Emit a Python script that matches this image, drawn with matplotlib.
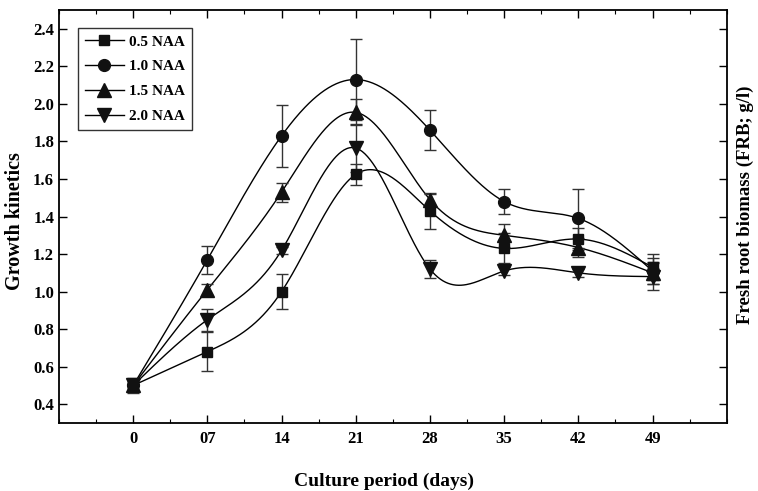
import numpy as np
import matplotlib
matplotlib.use("Agg")
import matplotlib.pyplot as plt
from matplotlib.ticker import MultipleLocator, FixedLocator, FormatStrFormatter

plt.rcParams['font.family'] = ['Liberation Serif', 'DejaVu Serif']
plt.rcParams['font.weight'] = 'bold'

days = [0, 7, 14, 21, 28, 35, 42, 49]
tick_labels = ["0", "07", "14", "21", "28", "35", "42", "49"]

series_names = ["0.5 NAA", "1.0 NAA", "1.5 NAA", "2.0 NAA"]
naa_05 = [0.50, 0.68, 1.00, 1.625, 1.43, 1.23, 1.28, 1.13]
naa_10 = [0.50, 1.17, 1.83, 2.13, 1.86, 1.48, 1.39, 1.11]
naa_15 = [0.50, 1.01, 1.53, 1.955, 1.49, 1.30, 1.235, 1.10]
naa_20 = [0.50, 0.85, 1.22, 1.765, 1.12, 1.11, 1.10, 1.08]

err_05 = [0.04, 0.105, 0.095, 0.055, 0.095, 0.08, 0.06, 0.07]
err_10 = [0.03, 0.075, 0.165, 0.215, 0.105, 0.065, 0.155, 0.07]
err_15 = [0.03, 0.03, 0.05, 0.07, 0.03, 0.06, 0.05, 0.06]
err_20 = [0.03, 0.06, 0.02, 0.13, 0.05, 0.02, 0.02, 0.07]

markers = ["s", "o", "^", "v"]
marker_sizes = [7.5, 8.5, 9.5, 9.5]


def natural_spline(x, y, n=400):
    x = np.asarray(x, float)
    y = np.asarray(y, float)
    m = len(x)
    h = np.diff(x)
    A = np.zeros((m, m))
    b = np.zeros(m)
    A[0, 0] = 1
    A[-1, -1] = 1
    for i in range(1, m - 1):
        A[i, i - 1] = h[i - 1]
        A[i, i] = 2 * (h[i - 1] + h[i])
        A[i, i + 1] = h[i]
        b[i] = 3 * ((y[i + 1] - y[i]) / h[i] - (y[i] - y[i - 1]) / h[i - 1])
    c = np.linalg.solve(A, b)
    xs = np.linspace(x[0], x[-1], n)
    ys = np.empty_like(xs)
    for k, xv in enumerate(xs):
        i = min(np.searchsorted(x, xv, side='right') - 1, m - 2)
        dx = xv - x[i]
        bi = (y[i + 1] - y[i]) / h[i] - h[i] * (c[i + 1] + 2 * c[i]) / 3
        di = (c[i + 1] - c[i]) / (3 * h[i])
        ys[k] = y[i] + bi * dx + c[i] * dx ** 2 + di * dx ** 3
    return xs, ys


fig = plt.figure(figsize=(7.58, 4.91), dpi=100)
ax = fig.add_axes([0.0778, 0.1385, 0.881, 0.841])

all_vals = [naa_05, naa_10, naa_15, naa_20]
all_errs = [err_05, err_10, err_15, err_20]
handles = []
for name, vals, errs, mk, ms in zip(series_names, all_vals, all_errs, markers, marker_sizes):
    xs, ys = natural_spline(days, vals)
    ax.plot(xs, ys, color='black', lw=1.0, zorder=2)
    ax.errorbar(days, vals, yerr=errs, fmt='none', ecolor='#333333',
                elinewidth=1.0, capsize=4, capthick=1.0, zorder=3)
    ax.plot(days, vals, linestyle='none', marker=mk, ms=ms, color='#111111', zorder=4)
    h, = ax.plot([], [], color='black', lw=1.0, marker=mk, ms=ms, markerfacecolor='#111111',
                 markeredgecolor='#111111', label=name)
    handles.append(h)

ax.set_xlim(-7, 56)
ax.set_ylim(0.3, 2.5)
ax.xaxis.set_major_locator(FixedLocator(days))
ax.set_xticklabels(tick_labels)
ax.xaxis.set_minor_locator(MultipleLocator(3.5))
ax.yaxis.set_major_locator(MultipleLocator(0.2))
ax.yaxis.set_major_formatter(FormatStrFormatter('%.1f'))

ax.tick_params(axis='both', which='major', direction='in', length=5.5, width=1.0,
               top=True, right=True, labelsize=12)
ax.tick_params(axis='x', which='minor', direction='in', length=3, width=0.8, top=True)
ax.tick_params(axis='x', which='major', pad=6)
ax.tick_params(axis='y', which='major', pad=3.5)
for lbl in ax.get_xticklabels() + ax.get_yticklabels():
    lbl.set_fontweight('bold')

for sp in ax.spines.values():
    sp.set_linewidth(1.3)

fig.text(384 / 758, 1 - 486 / 491, "Culture period (days)", fontsize=14,
         fontweight='bold', ha='center', va='baseline')
fig.text(15 / 758, 1 - 221 / 491, "Growth kinetics", rotation=90, fontsize=14.5,
         fontweight='bold', ha='center', va='center')
fig.text(745 / 758, 1 - 205 / 491, "Fresh root biomass (FRB; g/l)", rotation=90,
         fontsize=13.5, fontweight='bold', ha='center', va='center')

leg = ax.legend(handles=handles, loc='upper left', bbox_to_anchor=(0.028, 0.956),
                borderaxespad=0, frameon=True, fancybox=False, edgecolor='black',
                handlelength=2.6, handletextpad=0.3, labelspacing=0.72,
                borderpad=0.45, prop={'weight': 'bold', 'size': 11})
leg.get_frame().set_linewidth(1.0)

fig.savefig("out.png", dpi=100)
